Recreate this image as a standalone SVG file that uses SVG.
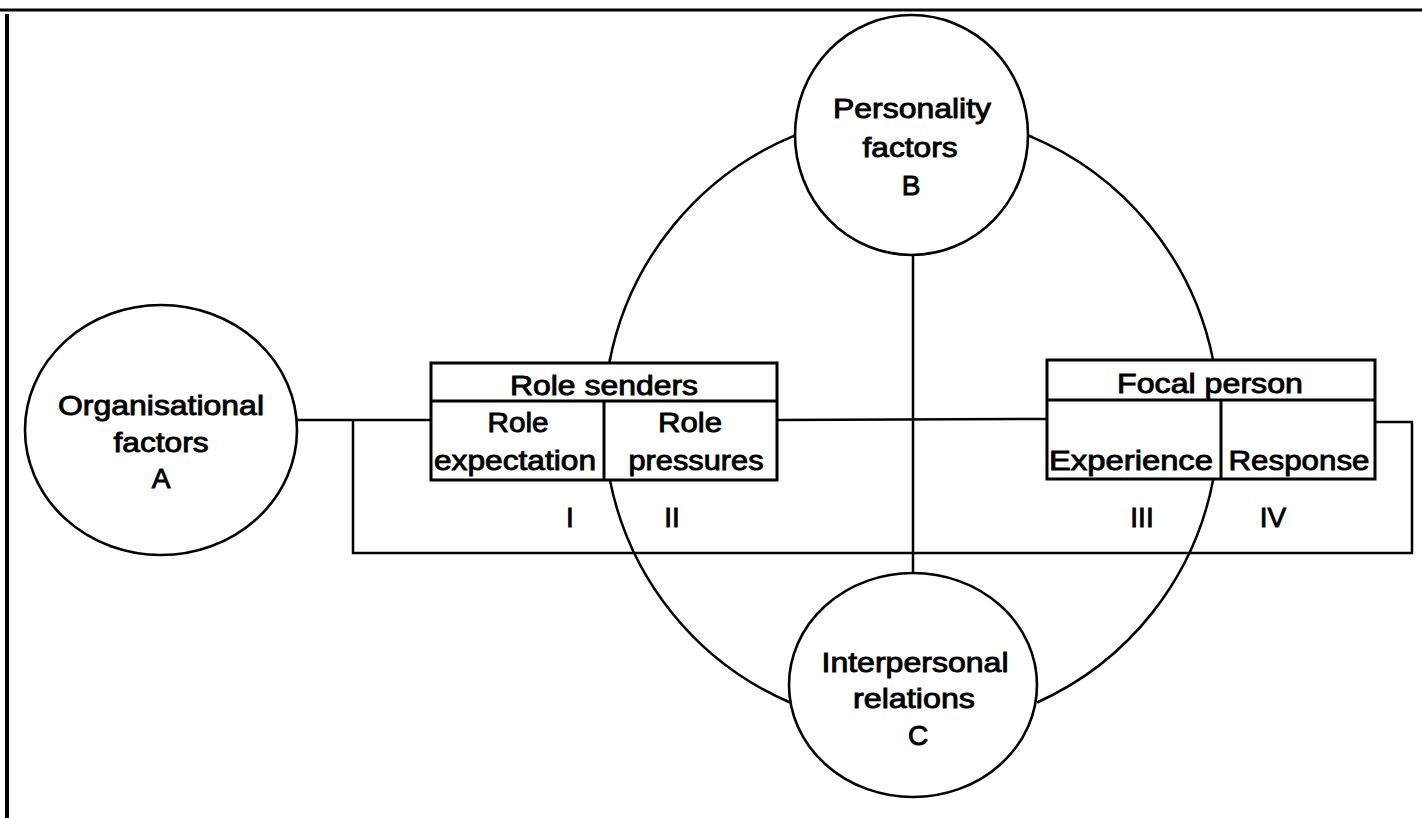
<svg xmlns="http://www.w3.org/2000/svg" width="1422" height="818" viewBox="0 0 1422 818">
<style>
.ln{fill:none;stroke:#000;stroke-width:2.5}
.nd{fill:#fff;stroke:#000;stroke-width:2.6}
.bx{fill:#fff;stroke:#000;stroke-width:3}
text{font-family:"Liberation Sans",Arial,sans-serif;font-size:28px;fill:#000;text-anchor:middle;stroke:#000;stroke-width:0.9}
</style>
<defs>
<marker id="ah" viewBox="0 0 10 10" refX="9" refY="5" markerWidth="6" markerHeight="5" markerUnits="userSpaceOnUse" orient="auto">
<path d="M0,2 L10,5 L0,8 Z" fill="#000"/>
</marker>
</defs>
<rect x="0" y="0" width="1422" height="818" fill="#fff"/>
<g id="frame">
<line x1="0" y1="10" x2="1422" y2="10" stroke="#000" stroke-width="3"/>
<line x1="7" y1="14" x2="7" y2="818" stroke="#000" stroke-width="4"/>
</g>
<g id="connectors">
<path class="ln" d="M795,135.4 A307.5,307.5 0 0 0 609.3,363" marker-end="url(#ah)"/>
<path class="ln" d="M609.9,480 A307.5,307.5 0 0 0 790,702.5" marker-end="url(#ah)"/>
<path class="ln" d="M1213.1,360 A307.5,307.5 0 0 0 1028,135.4" marker-end="url(#ah)"/>
<path class="ln" d="M1213.3,479 A307.5,307.5 0 0 1 1037,702.5" marker-end="url(#ah)"/>
<line class="ln" x1="913" y1="254" x2="913" y2="573"/>
<polyline class="ln" points="297,420 431,420"/>
<polyline class="ln" points="353,420 353,553 1412,553 1412,422 1375,422"/>
<polyline class="ln" points="777,420 1047,419"/>
</g>
<g id="nodeA">
<ellipse class="nd" cx="161" cy="430" rx="136" ry="125"/>
<text x="161" y="415" textLength="206" lengthAdjust="spacingAndGlyphs">Organisational</text>
<text x="161" y="452" textLength="95" lengthAdjust="spacingAndGlyphs">factors</text>
<text x="161" y="488">A</text>
</g>
<g id="nodeB">
<ellipse class="nd" cx="911.5" cy="135" rx="116.5" ry="120"/>
<text x="912" y="118" textLength="158" lengthAdjust="spacingAndGlyphs">Personality</text>
<text x="910" y="157" textLength="95" lengthAdjust="spacingAndGlyphs">factors</text>
<text x="911" y="195">B</text>
</g>
<g id="nodeC">
<ellipse class="nd" cx="913" cy="685" rx="124" ry="112"/>
<text x="915" y="672" textLength="187" lengthAdjust="spacingAndGlyphs">Interpersonal</text>
<text x="914" y="708" textLength="122" lengthAdjust="spacingAndGlyphs">relations</text>
<text x="918" y="745">C</text>
</g>
<g id="roleSenders">
<rect class="bx" x="431" y="363" width="346" height="117"/>
<line class="bx" x1="431" y1="401" x2="777" y2="401"/>
<line class="bx" x1="604" y1="401" x2="604" y2="480"/>
<text x="604" y="395" textLength="188" lengthAdjust="spacingAndGlyphs">Role senders</text>
<text x="518" y="432" textLength="61" lengthAdjust="spacingAndGlyphs">Role</text>
<text x="515" y="470" textLength="162" lengthAdjust="spacingAndGlyphs">expectation</text>
<text x="690" y="432" textLength="64" lengthAdjust="spacingAndGlyphs">Role</text>
<text x="696" y="470" textLength="135" lengthAdjust="spacingAndGlyphs">pressures</text>
</g>
<g id="focalPerson">
<rect class="bx" x="1047" y="360" width="328" height="119"/>
<line class="bx" x1="1047" y1="400" x2="1375" y2="400"/>
<line class="bx" x1="1221" y1="400" x2="1221" y2="479"/>
<text x="1210" y="393" textLength="186" lengthAdjust="spacingAndGlyphs">Focal person</text>
<text x="1131" y="470" textLength="164" lengthAdjust="spacingAndGlyphs">Experience</text>
<text x="1299" y="470" textLength="141" lengthAdjust="spacingAndGlyphs">Response</text>
</g>
<g id="labels">
<text x="570" y="527">I</text>
<text x="672" y="527">II</text>
<text x="1142" y="527">III</text>
<text x="1273" y="527">IV</text>
</g>
</svg>
